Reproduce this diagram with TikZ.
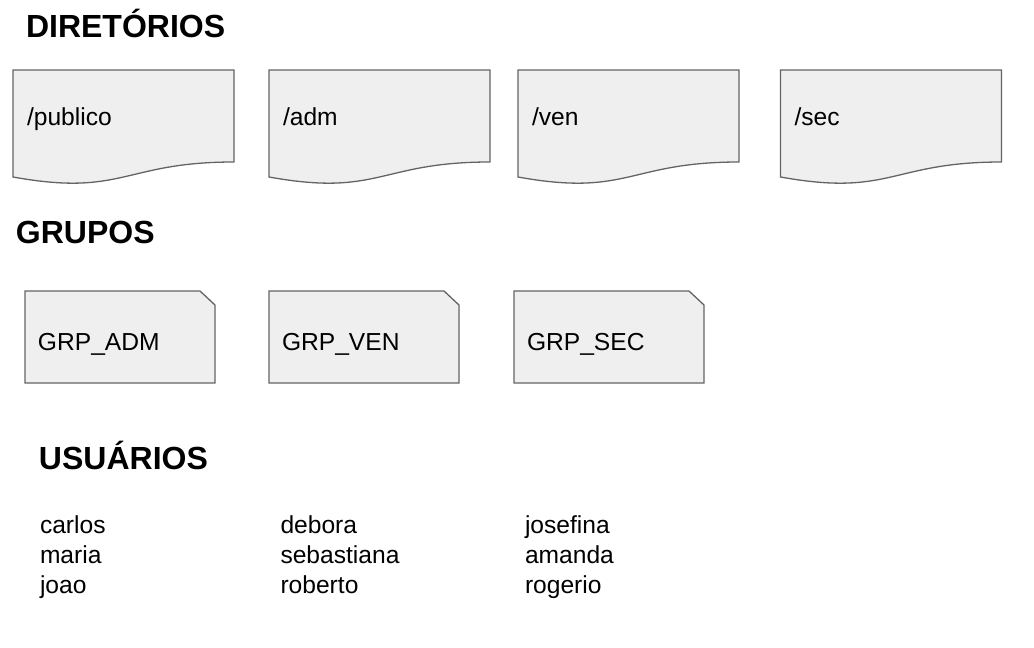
\documentclass[tikz,border=0pt]{standalone}
\usepackage{fontspec}
\setmainfont{Liberation Sans}
\usetikzlibrary{positioning, calc, backgrounds}
\definecolor{boxfill}{RGB}{239,239,239}
\definecolor{boxline}{RGB}{100,100,100}

\begin{document}
\begin{tikzpicture}[x=0.5pt, y=-0.5pt, node distance=128pt, outer sep=0pt,
    heading/.style={anchor=base west, inner sep=0pt, font=\fontsize{16}{19}\selectfont\bfseries},
    docbox/.style={inner xsep=7pt, text width=96.5pt, minimum height=46pt, text height=9pt, text depth=0pt, align=left, font=\fontsize{12.3}{14}\selectfont},
    grpbox/.style={inner xsep=6.5pt, text width=82pt, minimum height=46pt, text height=13.7pt, text depth=0pt, align=left, font=\fontsize{12.3}{14}\selectfont},
    user/.style={anchor=base west, inner sep=0pt, font=\fontsize{12.3}{14}\selectfont},
    nextuser/.style={below=15pt of #1.base west, anchor=base west},
    shapeline/.style={draw=boxline, fill=boxfill, line width=0.65pt}]
        \useasboundingbox (0,0) rectangle (1034,648);

        % headings
        \node[heading] (hdir) at (26,37.7) {DIRETÓRIOS};
        \node[heading] (hgrp) at (16,243.5) {GRUPOS};
        \node[heading] (husr) at (39,469.5) {USUÁRIOS};

        % directories
        \node[docbox] (dpub) at (123.5,116) {/publico};
        \node[docbox, node distance=128pt, right of=dpub] (dadm) {/adm};
        \node[docbox, node distance=124.5pt, right of=dadm] (dven) {/ven};
        \node[docbox, node distance=131.25pt, right of=dven] (dsec) {/sec};

        % groups
        \node[grpbox] (gadm) at (120,337) {GRP\_ADM};
        \node[grpbox, node distance=122pt, right of=gadm] (gven) {GRP\_VEN};
        \node[grpbox, node distance=122.5pt, right of=gven] (gsec) {GRP\_SEC};

        % users
        \node[user] (carlos) at (40,533) {carlos};
        \node[user, nextuser=carlos] (maria) {maria};
        \node[user, nextuser=maria] (joao) {joao};

        \node[user] (debora) at (280.5,533) {debora};
        \node[user, nextuser=debora] (sebastiana) {sebastiana};
        \node[user, nextuser=sebastiana] (roberto) {roberto};

        \node[user] (josefina) at (525,533) {josefina};
        \node[user, nextuser=josefina] (amanda) {amanda};
        \node[user, nextuser=amanda] (rogerio) {rogerio};

        % shapes behind the texts
        \begin{scope}[on background layer]
        \foreach \d in {dpub, dadm, dven, dsec}
            \draw[shapeline] (\d.north west) -- (\d.north east) -- (\d.south east)
                .. controls +(-110.5,0) and +(110.5,20) .. ($(\d.south west)+(0,15)$) -- cycle;
        \foreach \g in {gadm, gven, gsec}
            \draw[shapeline] (\g.north west) -- ($(\g.north east)+(-15,0)$) -- ($(\g.north east)+(0,14)$)
                -- (\g.south east) -- (\g.south west) -- cycle;
        \end{scope}
\end{tikzpicture}
\end{document}
